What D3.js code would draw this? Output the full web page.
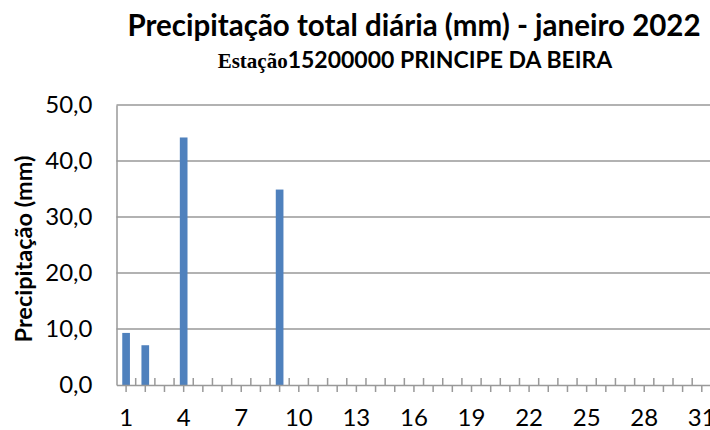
<!DOCTYPE html>
<html>
<head>
<meta charset="utf-8">
<script src="https://cdn.jsdelivr.net/npm/d3@7"></script>
<style>
  body { margin: 0; background: #fff; }
  svg { display: block; font-family: Lato, "Open Sans", sans-serif; }
</style>
</head>
<body>
<svg width="710" height="430"></svg>
<script>
var dias = ["1","2","3","4","5","6","7","8","9","10","11","12","13","14","15","16",
            "17","18","19","20","21","22","23","24","25","26","27","28","29","30","31"];
var precipitacao = [9.3, 7.1, 0, 44.2, 0, 0, 0, 0, 34.9, 0, 0, 0, 0, 0, 0, 0,
                    0, 0, 0, 0, 0, 0, 0, 0, 0, 0, 0, 0, 0, 0, 0];
var yTicks = [0, 10, 20, 30, 40, 50];

var svg = d3.select("svg"),
    margin = {top: 105, left: 116.5, bottom: 45},
    height = +svg.attr("height") - margin.top - margin.bottom;

var x = d3.scaleBand().domain(dias).range([margin.left, margin.left + 31 * 19.19]),
    y = d3.scaleLinear().domain([0, 50]).range([margin.top + height, margin.top]);

var bw = x.bandwidth();

// grid
svg.append("g")
    .selectAll("line")
    .data(yTicks.slice(1))
    .enter().append("line")
    .attr("x1", margin.left)
    .attr("x2", 712)
    .attr("y1", function(d) { return y(d); })
    .attr("y2", function(d) { return y(d); })
    .attr("stroke", "#999")
    .attr("stroke-width", 1.5);

// bars
svg.append("g")
    .selectAll("rect")
    .data(dias)
    .enter().append("rect")
    .attr("x", function(d) { return x(d) + bw * 0.3; })
    .attr("width", bw * 0.4)
    .attr("y", function(d, i) { return y(precipitacao[i]); })
    .attr("height", function(d, i) { return y(0) - y(precipitacao[i]); })
    .attr("fill", "#4f81bd");

// y axis
var yAxis = d3.axisLeft(y)
    .tickValues(yTicks)
    .tickSize(0)
    .tickPadding(24)
    .tickFormat(function(d) { return d3.format(".1f")(d).replace(".", ","); });

var yAxisGroup = svg.append("g")
    .attr("transform", "translate(" + margin.left + ",0)")
    .call(yAxis);
yAxisGroup.select(".domain").attr("stroke", "#999").attr("stroke-width", 1.5);
yAxisGroup.selectAll("text")
    .attr("font-size", 24)
    .attr("fill", "#000")
    .attr("font-family", "Lato, sans-serif");

// x axis
var xAxis = d3.axisBottom(x)
    .tickSize(7)
    .tickSizeOuter(0)
    .tickPadding(17)
    .tickFormat(function(d, i) { return i % 3 == 0 ? d : ""; });

var xAxisGroup = svg.append("g")
    .attr("transform", "translate(0," + y(0) + ")")
    .call(xAxis);
xAxisGroup.select(".domain").attr("stroke", "#999").attr("stroke-width", 1.5);
xAxisGroup.selectAll(".tick line").attr("stroke", "#999").attr("stroke-width", 1.5);
xAxisGroup.selectAll("text")
    .attr("font-size", 24)
    .attr("fill", "#000")
    .attr("font-family", "Lato, sans-serif");

// minor ticks between days (pointing up)
xAxisGroup.append("g")
    .selectAll("line")
    .data(dias.slice(1))
    .enter().append("line")
    .attr("x1", function(d) { return x(d); })
    .attr("x2", function(d) { return x(d); })
    .attr("y1", 0)
    .attr("y2", -7)
    .attr("stroke", "#999")
    .attr("stroke-width", 1.5);

// titles
svg.append("text")
    .attr("x", 414)
    .attr("y", 36)
    .attr("text-anchor", "middle")
    .attr("font-size", 29.5)
    .attr("font-weight", "bold")
    .text("Precipitação total diária (mm) - janeiro 2022");

var sub = svg.append("text")
    .attr("x", 415)
    .attr("y", 68)
    .attr("text-anchor", "middle")
    .attr("font-weight", "bold");
sub.append("tspan")
    .attr("font-family", "'Liberation Serif', serif")
    .attr("font-size", 21)
    .text("Estação");
sub.append("tspan")
    .attr("font-size", 23)
    .text("15200000 PRINCIPE DA BEIRA");

svg.append("text")
    .attr("transform", "translate(32,249) rotate(-90)")
    .attr("text-anchor", "middle")
    .attr("font-size", 23.5)
    .attr("font-weight", "bold")
    .text("Precipitação (mm)");
</script>
</body>
</html>
